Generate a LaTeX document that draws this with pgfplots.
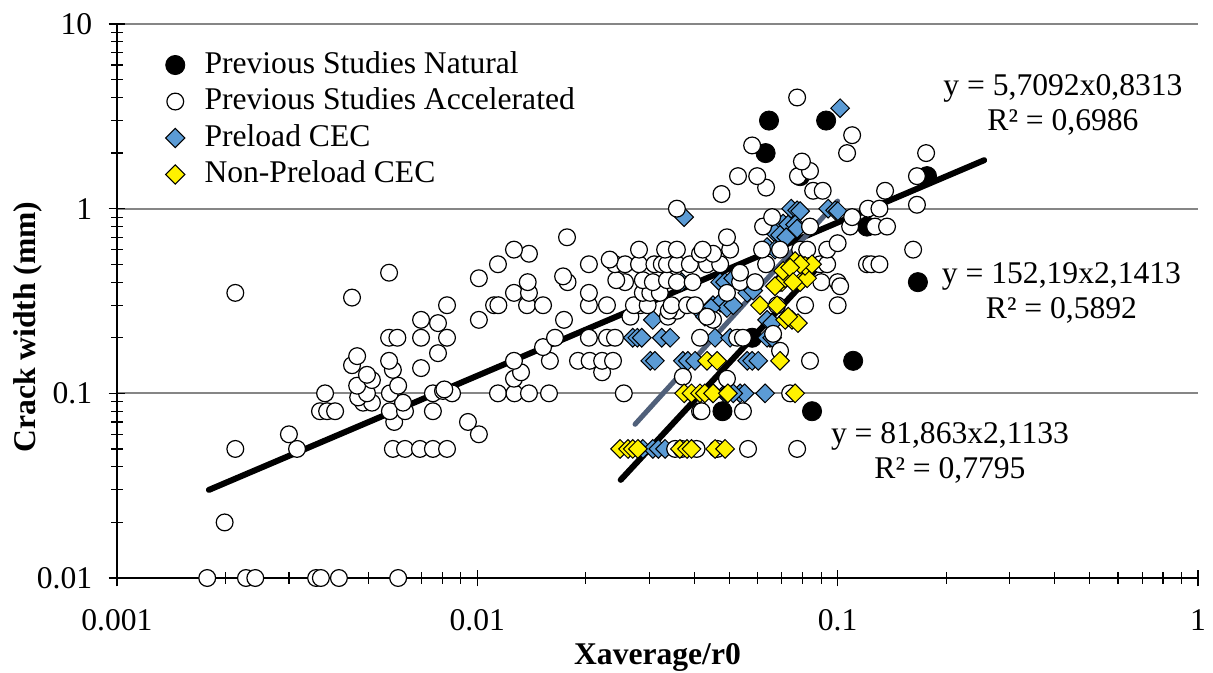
\documentclass[border=0pt]{standalone}
\usepackage{fontspec}
\setmainfont{Liberation Serif}
\usepackage{pgfplots}
\pgfplotsset{compat=1.18}
\definecolor{cecblue}{RGB}{91,155,213}
\definecolor{slate}{RGB}{80,96,122}
\definecolor{gridgray}{RGB}{134,134,134}
\begin{document}
\begin{tikzpicture}[font=\fontsize{15.8bp}{17.5bp}\selectfont]
\useasboundingbox (0,0) rectangle (606.5bp,336.5bp);
\begin{axis}[
  at={(58.5bp,47.5bp)}, anchor=south west,
  scale only axis, width=540.5bp, height=277bp,
  xmode=log, ymode=log,
  xmin=0.001, xmax=1, ymin=0.01, ymax=10,
  axis x line*=bottom, axis y line*=left,
  axis line style={-, line width=0.9bp, black},
  xtick={0.001,0.01,0.1,1}, xticklabels={0.001,0.01,0.1,1},
  ytick={0.01,0.1,1,10}, yticklabels={0.01,0.1,1,10},
  tick align=center,
  major tick length=8.5bp, minor tick length=6bp,
  every tick/.style={black, line width=0.6bp},
  ymajorgrids, major grid style={gridgray, line width=1bp},
  xticklabel style={anchor=center, yshift=-17bp},
  yticklabel style={anchor=east, inner sep=0pt, xshift=-8bp},
  xlabel={\bfseries Xaverage/r0},
  ylabel={\bfseries Crack width (mm)},
  xlabel style={at={(axis description cs:0.5,-0.1426)}, anchor=center},
  ylabel style={at={(axis description cs:-0.0823,0.453)}, anchor=center},
  clip=false,
  legend style={at={(rel axis cs:0.0443,0.9596)}, anchor=north west, draw=none, fill=none,
    inner sep=0pt, row sep=0pt,
    nodes={text height=11bp, text depth=3bp, inner sep=2.125bp}},
  legend cell align=left,
  legend image code/.code={\path[draw=none,fill=none] (-5bp,-5bp) rectangle (12.5bp,5bp); \draw[#1] plot coordinates {(0bp,0bp)};},
]
% legend entries
\addlegendimage{only marks, mark=*, mark size=4.8bp, mark options={fill=black, draw=black}}
\addlegendentry{Previous Studies Natural}
\addlegendimage{only marks, mark=*, mark size=4.2bp, mark options={fill=white, draw=black, line width=0.6bp}}
\addlegendentry{Previous Studies Accelerated}
\addlegendimage{only marks, mark=square*, mark size=3.4bp, mark options={rotate=45, fill=cecblue, draw=black, line width=0.5bp}}
\addlegendentry{Preload CEC}
\addlegendimage{only marks, mark=square*, mark size=3.4bp, mark options={rotate=45, fill=yellow, draw=black, line width=0.5bp}}
\addlegendentry{Non-Preload CEC}

% Previous Studies Natural
\addplot[forget plot, only marks, mark=*, mark size=4.8bp, mark options={fill=black, draw=black}] coordinates {
(0.0645,3.0) (0.0929,3.0) (0.0631,2.0) (0.0787,1.5) (0.177,1.5) (0.1206,0.8)
(0.167,0.4) (0.1104,0.15) (0.0849,0.08) (0.0479,0.08) (0.0579,0.2)
};

% Preload CEC
\addplot[forget plot, only marks, mark=square*, mark size=3.3bp, mark options={rotate=45, fill=cecblue, draw=black, line width=0.5bp}] coordinates {
(0.1016,3.5) (0.0375,0.9)
(0.0743,1.0) (0.0772,0.98) (0.0787,0.97) (0.0941,1.0) (0.0984,0.98) (0.1001,0.97)
(0.0706,0.83) (0.0729,0.82) (0.0762,0.82) (0.0772,0.78)
(0.0670,0.74) (0.0692,0.72) (0.0720,0.7)
(0.0637,0.62) (0.0670,0.6)
(0.0369,0.4) (0.0472,0.4) (0.0487,0.4) (0.0513,0.42)
(0.0561,0.35) (0.0583,0.36)
(0.0451,0.3) (0.0472,0.31) (0.0493,0.29) (0.0513,0.3) (0.0415,0.28) (0.0445,0.29)
(0.0307,0.25) (0.0428,0.26) (0.0637,0.25) (0.0658,0.24)
(0.0270,0.2) (0.0278,0.2) (0.0286,0.2) (0.0325,0.2) (0.0343,0.2) (0.0457,0.2) (0.0503,0.2) (0.0649,0.2) (0.0637,0.2) (0.0658,0.2)
(0.0302,0.15) (0.0311,0.15) (0.0372,0.15) (0.0384,0.15) (0.0402,0.15) (0.0561,0.15) (0.0579,0.15) (0.0602,0.15)
(0.0451,0.1) (0.0487,0.1) (0.0536,0.1) (0.0552,0.1) (0.0629,0.1) (0.0493,0.1) (0.0513,0.1)
(0.0288,0.05) (0.0307,0.05) (0.0318,0.05) (0.0332,0.05)
};

% Previous Studies Accelerated
\addplot[forget plot, only marks, mark=*, mark size=4.2bp, mark options={fill=white, draw=black, line width=0.6bp}] coordinates {
(0.00178,0.01) (0.00228,0.01) (0.00242,0.01) (0.00357,0.01) (0.00368,0.01) (0.00413,0.01) (0.00603,0.01)
(0.00199,0.02)
(0.00213,0.05) (0.00316,0.05) (0.00583,0.05) (0.0063,0.05) (0.00693,0.05) (0.00753,0.05) (0.00824,0.05)
(0.0354,0.05) (0.0369,0.05) (0.0406,0.05) (0.0463,0.05) (0.0564,0.05) (0.0772,0.05)
(0.0030,0.06) (0.0101,0.06)
(0.00588,0.07) (0.00942,0.07)
(0.00366,0.08) (0.00383,0.08) (0.00403,0.08) (0.00572,0.08) (0.0063,0.08) (0.00753,0.08) (0.0415,0.08) (0.0419,0.08) (0.0546,0.08)
(0.00482,0.089) (0.0051,0.089) (0.00622,0.089)
(0.00467,0.095)
(0.00378,0.1) (0.00494,0.1) (0.00572,0.1) (0.00753,0.1) (0.00803,0.103) (0.00851,0.1) (0.01141,0.1) (0.01268,0.1) (0.01391,0.1) (0.01581,0.1) (0.0255,0.1) (0.0738,0.1)
(0.0081,0.105)
(0.00464,0.11) (0.00603,0.11)
(0.0051,0.118)
(0.01264,0.12) (0.0493,0.12) (0.0372,0.123)
(0.00494,0.126)
(0.01322,0.13) (0.0222,0.13)
(0.00583,0.134) (0.00698,0.137) (0.00449,0.142) (0.00569,0.15)
(0.01264,0.15) (0.0159,0.15) (0.01903,0.15) (0.0205,0.15) (0.0222,0.15) (0.0238,0.15) (0.0838,0.15)
(0.00464,0.159) (0.00778,0.165) (0.0692,0.17) (0.01522,0.178)
(0.00698,0.2) (0.00569,0.2) (0.0060,0.2) (0.00824,0.2) (0.01643,0.2) (0.0204,0.2) (0.0229,0.2) (0.0241,0.2) (0.0415,0.2) (0.0526,0.2) (0.0546,0.2) (0.0662,0.21)
(0.00698,0.25) (0.00778,0.24) (0.0101,0.25) (0.0174,0.25) (0.0266,0.26) (0.0451,0.25)
(0.0338,0.26) (0.0434,0.26)
(0.0358,0.28) (0.034,0.28)
(0.00824,0.3) (0.01113,0.3) (0.01144,0.3) (0.01374,0.3) (0.01522,0.3) (0.0204,0.3) (0.0229,0.3) (0.0283,0.3) (0.0272,0.3) (0.0297,0.3) (0.0346,0.3) (0.0382,0.3) (0.0402,0.3) (0.0679,0.3) (0.0812,0.3) (0.1,0.3)
(0.00449,0.33)
(0.00213,0.35) (0.01264,0.35) (0.01391,0.35) (0.0204,0.35) (0.0288,0.35) (0.0302,0.35) (0.0321,0.35) (0.0493,0.35)
(0.0138,0.4) (0.0178,0.4) (0.0257,0.4) (0.0243,0.41) (0.0288,0.41) (0.0307,0.4) (0.0336,0.41) (0.0358,0.4) (0.0396,0.4) (0.0536,0.4) (0.059,0.4) (0.0901,0.4) (0.1,0.4) (0.1016,0.38)
(0.0101,0.42) (0.0173,0.43)
(0.00569,0.45) (0.0536,0.45)
(0.01141,0.5) (0.0204,0.5) (0.0241,0.5) (0.0257,0.5) (0.0281,0.5) (0.031,0.5) (0.0325,0.5) (0.0336,0.5) (0.0358,0.5) (0.0389,0.5) (0.0434,0.5) (0.0472,0.5) (0.0633,0.5) (0.0894,0.5) (0.0935,0.5) (0.1206,0.5) (0.1239,0.5) (0.1306,0.5) (0.0233,0.53)
(0.01391,0.57) (0.0415,0.57) (0.0451,0.57)
(0.01264,0.6) (0.0281,0.6) (0.0332,0.6) (0.0358,0.6) (0.0422,0.6) (0.0503,0.6) (0.0617,0.6) (0.0692,0.6) (0.0787,0.6) (0.0823,0.6) (0.0935,0.6) (0.162,0.6)
(0.1,0.65)
(0.01774,0.7) (0.0493,0.7)
(0.0621,0.8) (0.0838,0.8) (0.1083,0.8) (0.127,0.8) (0.1371,0.8)
(0.0658,0.9) (0.1097,0.9)
(0.0358,1.0) (0.1214,1.0) (0.1306,1.0) (0.166,1.05)
(0.0476,1.2) (0.0855,1.25) (0.0909,1.25) (0.1354,1.25)
(0.0633,1.3)
(0.0529,1.5) (0.0598,1.5) (0.0776,1.5) (0.166,1.5)
(0.0838,1.6) (0.0796,1.8)
(0.1062,2.0) (0.176,2.0)
(0.0579,2.2) (0.1097,2.5) (0.0772,4.0)
};

% Non-Preload CEC
\addplot[forget plot, only marks, mark=square*, mark size=3.3bp, mark options={rotate=45, fill=yellow, draw=black, line width=0.5bp}] coordinates {
(0.0249,0.05) (0.0262,0.05) (0.0270,0.05) (0.0279,0.05) (0.0365,0.05) (0.0382,0.05) (0.0393,0.05) (0.0457,0.05) (0.0487,0.05)
(0.0375,0.1) (0.0393,0.1) (0.0415,0.1) (0.0428,0.1) (0.0451,0.1) (0.0496,0.1) (0.0762,0.1)
(0.0434,0.15) (0.0463,0.15) (0.0692,0.15)
(0.0609,0.3) (0.0679,0.3)
(0.0715,0.25) (0.0747,0.25) (0.0776,0.24) (0.0729,0.26)
(0.0692,0.4) (0.0701,0.4) (0.0715,0.42) (0.0787,0.4) (0.0823,0.42) (0.0812,0.49) (0.0849,0.5) (0.0762,0.52) (0.0787,0.5) (0.0706,0.46) (0.0738,0.48) (0.0670,0.38) (0.0752,0.4)
};

% trend lines
\addplot[forget plot, black, line width=3bp, line cap=round] coordinates {(0.0018,0.030) (0.255,1.83)};
\addplot[forget plot, slate, line width=2.5bp, line cap=round] coordinates {(0.0274,0.068) (0.1,1.1)};
\addplot[forget plot, black, line width=3bp, line cap=round] coordinates {(0.025,0.034) (0.088,0.48)};

\node[align=center, anchor=center] at (axis cs:0.422,3.66) {y = 5,7092x0,8313\\R² = 0,6986};
\node[align=center, anchor=center] at (axis cs:0.418,0.351) {y = 152,19x2,1413\\R² = 0,5892};
\node[align=center, anchor=center] at (axis cs:0.205,0.0478) {y = 81,863x2,1133\\R² = 0,7795};
\end{axis}
\end{tikzpicture}
\end{document}
